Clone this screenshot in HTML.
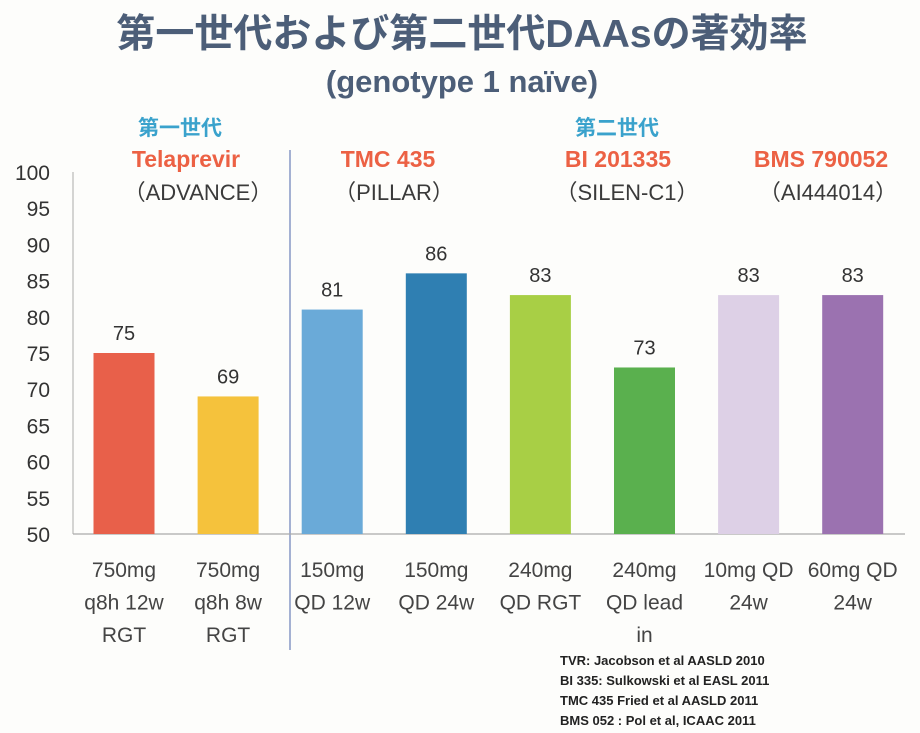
<!DOCTYPE html>
<html><head><meta charset="utf-8"><style>
body{margin:0;width:920px;height:733px;background:#fdfdfb;overflow:hidden;font-family:"Liberation Sans","Noto Sans CJK JP",sans-serif}
svg{display:block}
</style></head><body>
<svg width="920" height="733" id="chart">
<text x="462" y="47" text-anchor="middle" font-size="39" font-weight="bold" fill="#4c5e78">第一世代および第二世代DAAsの著効率</text>
<text x="462" y="92" text-anchor="middle" font-size="31" font-weight="bold" fill="#4c5e78">(genotype 1 naïve)</text>
<text x="180" y="135" text-anchor="middle" font-size="21" font-weight="bold" fill="#3aa2cc">第一世代</text>
<text x="617" y="135" text-anchor="middle" font-size="21" font-weight="bold" fill="#3aa2cc">第二世代</text>
<g font-size="23" font-weight="bold" fill="#ec6144" text-anchor="middle">
<text x="186" y="167">Telaprevir</text>
<text x="388" y="167">TMC 435</text>
<text x="618" y="167">BI 201335</text>
<text x="821" y="167">BMS 790052</text>
</g>
<g font-size="22" fill="#3a3a3a" text-anchor="middle">
<text x="198" y="200">（ADVANCE）</text>
<text x="394" y="200">（PILLAR）</text>
<text x="627" y="200">（SILEN-C1）</text>
<text x="828" y="200">（AI444014）</text>
</g>
<line x1="290" y1="150" x2="290" y2="650" stroke="#6a7fb8" stroke-width="1.2"/>
<g id="axes"></g>
<g id="bars"></g>
<g font-size="13" font-weight="bold" fill="#222">
<text x="560" y="665">TVR: Jacobson et al AASLD 2010</text>
<text x="560" y="685">BI 335: Sulkowski et al EASL 2011</text>
<text x="560" y="705">TMC 435 Fried et al AASLD 2011</text>
<text x="560" y="725">BMS 052 : Pol et al, ICAAC 2011</text>
</g>
</svg>
<script>
const values=[75,69,81,86,83,73,83,83];
const colors=["#e8604a","#f5c23c","#6aaad8","#2f7fb2","#a8cf45","#5ab04e","#ddd0e6","#9b72b0"];
const categories=[["750mg","q8h 12w","RGT"],["750mg","q8h 8w","RGT"],["150mg","QD 12w"],["150mg","QD 24w"],["240mg","QD RGT"],["240mg","QD lead","in"],["10mg QD","24w"],["60mg QD","24w"]];
const ticks=[50,55,60,65,70,75,80,85,90,95,100];
const NS="http://www.w3.org/2000/svg";
const y0=534,y1=172,vmin=50,vmax=100;
function ys(v){return y0-(v-vmin)/(vmax-vmin)*(y0-y1);}
function xs(i){return 124+i*104.1;}
function mk(t,a,p){const e=document.createElementNS(NS,t);for(const k in a)e.setAttribute(k,a[k]);p.appendChild(e);return e;}
const ax=document.getElementById('axes'),bg=document.getElementById('bars');
const yl=mk('line',{x1:73,y1:y1,x2:73,y2:y0,stroke:'#aaa','stroke-width':1},ax);


const xl=mk('line',{x1:73,y1:y0,x2:905,y2:y0,stroke:'#aaa','stroke-width':1.2},ax);


ticks.forEach(t=>{const e=mk('text',{x:50,y:ys(t)+8,'text-anchor':'end','font-size':21,fill:'#333'},ax);e.textContent=t;

});
values.forEach((v,i)=>{const w=61;const r=mk('rect',{x:xs(i)-w/2,y:ys(v),width:w,height:y0-ys(v),fill:colors[i]},bg);


const l=mk('text',{x:xs(i),y:ys(v)-13,'text-anchor':'middle','font-size':20,fill:'#333'},bg);l.textContent=v;


categories[i].forEach((s,j)=>{const c=mk('text',{x:xs(i),y:577+j*32.5,'text-anchor':'middle','font-size':21,fill:'#444'},bg);c.textContent=s;

});});
</script>
</body></html>
